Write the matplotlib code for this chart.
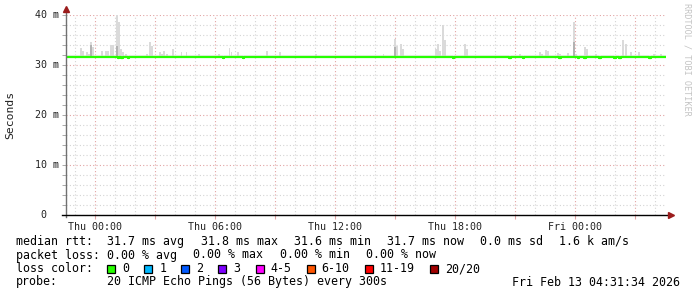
import matplotlib
matplotlib.use("Agg")
import matplotlib.pyplot as plt
import matplotlib.dates as mdates
from matplotlib.patches import Rectangle
from matplotlib.ticker import MultipleLocator, FuncFormatter
from matplotlib.transforms import blended_transform_factory
import numpy as np
import pandas as pd

W, H = 697, 297
MONO = "DejaVu Sans Mono"

# --- data ---
t_start = "2026-02-11 22:31:34"
t_end = "2026-02-13 04:31:34"
median_base = 31.7
smoke_floor = 31.4
smoke_ceil = 32.1

# smoke spikes: sample time, max rtt (ms)
smoke_time = [
    "02-11 23:16", "02-11 23:22", "02-11 23:35", "02-11 23:41", "02-11 23:47", "02-11 23:53",
    "02-12 00:20", "02-12 00:31", "02-12 00:37", "02-12 00:46", "02-12 00:52",
    "02-12 01:04", "02-12 01:10", "02-12 01:16", "02-12 01:22", "02-12 01:32",
    "02-12 02:34", "02-12 02:43", "02-12 02:50", "02-12 03:13", "02-12 03:20", "02-12 03:26",
    "02-12 03:34", "02-12 03:53", "02-12 04:18", "02-12 04:33", "02-12 05:10", "02-12 06:10",
    "02-12 06:42", "02-12 06:48", "02-12 07:07", "02-12 08:34", "02-12 09:14", "02-12 11:02",
    "02-12 14:24", "02-12 14:58", "02-12 15:04", "02-12 15:17", "02-12 15:22",
    "02-12 17:02", "02-12 17:07", "02-12 17:13", "02-12 17:23", "02-12 17:28",
    "02-12 18:28", "02-12 18:34", "02-12 21:14", "02-12 22:13", "02-12 22:20",
    "02-12 22:32", "02-12 22:38", "02-12 23:08", "02-12 23:14", "02-12 23:38",
    "02-12 23:55", "02-13 00:01", "02-13 00:28", "02-13 00:34", "02-13 01:01",
    "02-13 02:23", "02-13 02:31", "02-13 02:47", "02-13 03:11", "02-13 03:55", "02-13 04:17",
]
smoke_max = [
    33.4, 32.7, 32.5, 32.2, 34.6, 33.6,
    32.7, 32.9, 32.9, 34.0, 34.0,
    40.0, 38.6, 33.3, 32.5, 32.1,
    32.1, 34.6, 33.7, 32.5, 32.2, 32.7,
    32.2, 33.3, 32.5, 32.5, 32.1, 32.1,
    33.4, 32.5, 32.5, 32.7, 32.5, 32.1,
    32.2, 35.1, 33.7, 34.1, 33.1,
    33.1, 34.1, 32.7, 38.0, 35.0,
    34.3, 33.3, 32.1, 32.6, 32.2,
    33.0, 32.9, 32.4, 32.2, 32.4,
    38.6, 32.3, 33.6, 33.1, 32.1,
    35.0, 34.1, 32.5, 32.5, 32.2, 32.1,
]
# darker core of a few spikes (ms)
smoke_core = {"02-11 23:47": 34.0, "02-12 01:04": 33.8, "02-12 14:58": 33.6,
              "02-12 23:55": 34.6}

# short dips of the median line
dip_time = [
    "02-12 01:08", "02-12 01:17", "02-12 01:38", "02-12 06:20", "02-12 07:20",
    "02-12 17:53", "02-12 20:41", "02-12 21:23", "02-12 23:14", "02-13 00:08",
    "02-13 00:28", "02-13 01:14", "02-13 01:56", "02-13 02:11", "02-13 03:41",
]
dip_value = 31.35

y_ticks = [0, 10, 20, 30, 40]
y_labels = [" 0", "10 m", "20 m", "30 m", "40 m"]

loss_labels = ["0", "1", "2", "3", "4-5", "6-10", "11-19", "20/20"]
loss_colors = ["#26ff00", "#00b8ff", "#0059ff", "#7e00ff", "#ff00ff", "#ff5500", "#ff0000", "#a10000"]

stats_rtt = ["31.7 ms avg", "31.8 ms max", "31.6 ms min", "31.7 ms now", "0.0 ms sd", "1.6 k am/s"]
stats_loss = ["0.00 % avg", "0.00 % max", "0.00 % min", "0.00 % now"]
probe_text = "20 ICMP Echo Pings (56 Bytes) every 300s"
stamp = "Fri Feb 13 04:31:34 2026"

LINE_GREEN = loss_colors[0]
SMOKE = "#dadada"
SMOKE_CORE = "#b2b2b2"
GRID_MAJOR = "#e2a4a4"
GRID_MINOR = "#d4d4d4"
ARROW = "#9b1c1c"


def px(x, y):
    # pixel (from top-left) -> figure fraction
    return x / W, 1 - y / H


def when(s):
    return mdates.date2num(pd.Timestamp("2026-" + s))


fig = plt.figure(figsize=(W / 100, H / 100), dpi=100)
fig.patch.set_facecolor("white")
x0, y0 = px(66, 215)
ax = fig.add_axes([x0, y0, 600 / W, 200 / H])

xs = mdates.date2num(pd.Timestamp(t_start))
xe = mdates.date2num(pd.Timestamp(t_end))
step = 5 / 1440

# smoke
ax.fill_between([xs, xe], smoke_floor, smoke_ceil, color="#ebebeb", lw=0, zorder=2)
st = np.array([when(s) for s in smoke_time])
ax.bar(st, np.array(smoke_max) - smoke_floor, bottom=smoke_floor, width=step,
       color=SMOKE, lw=0, zorder=3)
ct = [when(k) for k in smoke_core]
cv = np.array(list(smoke_core.values()))
ax.bar(ct, cv - smoke_floor, bottom=smoke_floor, width=step, color=SMOKE_CORE, lw=0, zorder=3)

# median line
times = pd.date_range(t_start, t_end, freq="5min")
tn = mdates.date2num(times)
median = np.full(len(tn), median_base)
for d in dip_time:
    median[np.argmin(np.abs(tn - when(d)))] = dip_value
ax.plot(tn, median, color=LINE_GREEN, lw=1.6, drawstyle="steps-post", zorder=4,
        solid_capstyle="butt")

ax.set_xlim(xs, xe)
ax.set_ylim(0, 40)

ax.xaxis.set_major_locator(mdates.HourLocator(byhour=range(0, 24, 3)))
ax.xaxis.set_minor_locator(mdates.HourLocator())


def xfmt(v, pos):
    d = mdates.num2date(v)
    return d.strftime("%a %H:%M") if d.hour % 6 == 0 else ""


ax.xaxis.set_major_formatter(FuncFormatter(xfmt))
ax.yaxis.set_major_locator(MultipleLocator(10))
ax.yaxis.set_minor_locator(MultipleLocator(2))

ax.set_axisbelow(True)
ax.grid(which="minor", color=GRID_MINOR, ls=(0, (1, 2)), lw=0.8)
ax.grid(which="major", color=GRID_MAJOR, ls=(0, (1, 2)), lw=0.8)

for sp in ax.spines.values():
    sp.set_visible(False)
ax.set_facecolor("white")

ax.tick_params(axis="x", which="major", length=3, width=0.8, color=GRID_MAJOR,
               direction="out", pad=2, labelsize=7.2, labelcolor="#222222")
ax.tick_params(axis="x", which="minor", length=0)
ax.tick_params(axis="y", which="both", length=3, width=0.7, color="#aaaaaa",
               direction="out", labelleft=False)
for lab in ax.get_xticklabels():
    lab.set_family(MONO)

ytrans = blended_transform_factory(fig.transFigure, ax.transData)
for v, s in zip(y_ticks, y_labels):
    ax.text(35 / W, v, s, transform=ytrans, family=MONO, fontsize=7.2,
            ha="left", va="center", color="#222222")

# axis lines with arrows
ax.plot([0, 0], [-0.01, 1.02], transform=ax.transAxes, color="#707070", lw=1,
        clip_on=False, zorder=5)
ax.plot([-0.007, 1.006], [0, 0], transform=ax.transAxes, color="black", lw=1,
        clip_on=False, zorder=5)
ax.plot([0], [1.028], marker="^", ms=4, color=ARROW, transform=ax.transAxes,
        clip_on=False, zorder=6)
ax.plot([1.008], [0], marker=">", ms=4, color=ARROW, transform=ax.transAxes,
        clip_on=False, zorder=6)

# labels around the plot
fig.text(*px(10.5, 115), "Seconds", rotation=90, family=MONO, fontsize=8.2,
         ha="center", va="center", color="#222222")
fig.text(*px(687, 59), "RRDTOOL / TOBI OETIKER", rotation=270, family=MONO,
         fontsize=6.1, ha="center", va="center", color="#c4c4c4")

# legend / stats block
FS = 8.4
cw = 7.03
gap = 15.8
col2 = 16 + 13 * cw


def row(y, head, items):
    fig.text(*px(16, y), head, family=MONO, fontsize=FS, va="baseline", ha="left")
    x = col2
    for it in items:
        fig.text(*px(x, y), it, family=MONO, fontsize=FS, va="baseline", ha="left")
        x += len(it) * cw + gap


row(245, "median rtt:", stats_rtt)
row(258.5, "packet loss:", stats_loss)

fig.text(*px(16, 272), "loss color:", family=MONO, fontsize=FS, va="baseline", ha="left")
bx = col2
for lbl, col in zip(loss_labels, loss_colors):
    fig.add_artist(Rectangle(px(bx, 273), 8 / W, 8 / H, transform=fig.transFigure,
                             facecolor=col, edgecolor="black", lw=0.9))
    fig.text(*px(bx + 15, 272), lbl, family=MONO, fontsize=FS, va="baseline", ha="left")
    bx += 30 + len(lbl) * cw

row(285.5, "probe:", [probe_text])
fig.text(*px(680, 285.5), stamp, family=MONO, fontsize=FS, va="baseline", ha="right")

fig.savefig("out.png", dpi=100, facecolor="white")
